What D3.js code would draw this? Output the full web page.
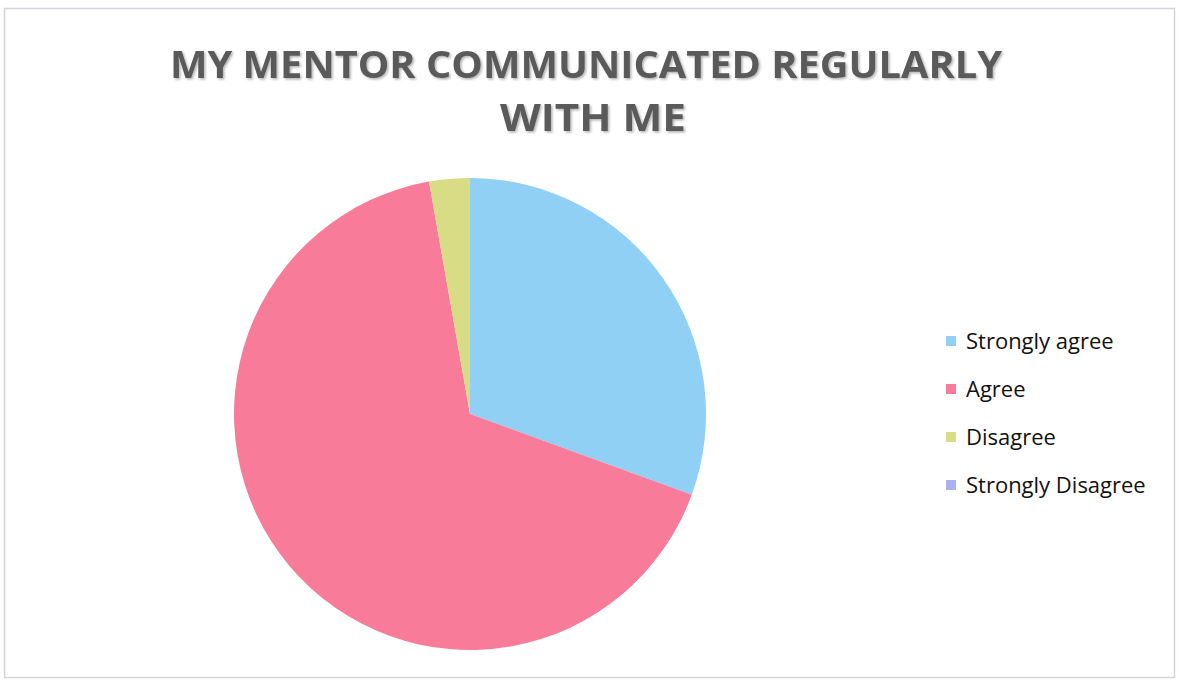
<!DOCTYPE html>
<html>
<head>
<meta charset="utf-8">
<script src="https://cdn.jsdelivr.net/npm/d3@7"></script>
<style>
    body { margin: 0; background: #fff; }
    #chart { width: 1179px; height: 681px; }
</style>
</head>
<body>
<div id="chart"></div>
<script>
// survey answers (counts)
const categories = ['Strongly agree', 'Agree', 'Disagree', 'Strongly Disagree'];
const counts = [11, 24, 1, 0];
const colors = ['#8fd0f4', '#f97b9a', '#d8dc84', '#a9b2ef'];
const titleLines = ['MY MENTOR COMMUNICATED REGULARLY', 'WITH ME'];

let width = 1179, height = 681;

let svg = d3.select('#chart').append('svg')
    .attr('width', width)
    .attr('height', height);

// outer frame
svg.append('rect')
    .attr('x', 4.5).attr('y', 8.5)
    .attr('width', 1170).attr('height', 669)
    .attr('fill', 'none')
    .attr('stroke', '#d4d4dc')
    .attr('stroke-width', 1.5);

// title with a soft shadow like the original
let defs = svg.append('defs');
let shadow = defs.append('filter').attr('id', 'shadow')
    .attr('x', '-5%').attr('y', '-20%').attr('width', '110%').attr('height', '140%');
shadow.append('feDropShadow')
    .attr('dx', 1.5).attr('dy', 1.5).attr('stdDeviation', 1)
    .attr('flood-color', '#000').attr('flood-opacity', 0.3);

let titleWidths = [832, 186];
svg.append('g').attr('filter', 'url(#shadow)')
    .selectAll('text')
    .data(titleLines)
    .enter().append('text')
    .attr('x', (d, i) => i === 0 ? 586 : 593)
    .attr('y', (d, i) => 78 + i * 53)
    .attr('text-anchor', 'middle')
    .attr('textLength', (d, i) => titleWidths[i])
    .attr('lengthAdjust', 'spacingAndGlyphs')
    .style('font-family', '"Open Sans", sans-serif')
    .style('font-weight', 700)
    .style('font-size', '38px')
    .style('fill', '#5a5a5a')
    .text(d => d);

// pie
let cx = 470, cy = 414, radius = 236;

let pie = d3.pie().sort(null).value(d => d);
let arc = d3.arc().innerRadius(0).outerRadius(radius);

let color = d3.scaleOrdinal().domain(categories).range(colors);

svg.append('g')
    .attr('transform', `translate(${cx}, ${cy})`)
    .selectAll('path')
    .data(pie(counts))
    .enter().append('path')
    .attr('d', arc)
    .attr('fill', (d, i) => color(categories[i]));

// legend
let legendY = d3.scalePoint().domain(categories).range([341, 485]);

let legend = svg.append('g').selectAll('g')
    .data(categories)
    .enter().append('g')
    .attr('transform', d => `translate(946, ${legendY(d)})`);

legend.append('rect')
    .attr('x', 0).attr('y', -5)
    .attr('width', 10).attr('height', 10)
    .attr('fill', d => color(d));

legend.append('text')
    .attr('x', 20).attr('y', 8)
    .style('font-family', '"Open Sans", sans-serif')
    .style('font-size', '22px')
    .style('fill', '#111')
    .text(d => d);
</script>
</body>
</html>
